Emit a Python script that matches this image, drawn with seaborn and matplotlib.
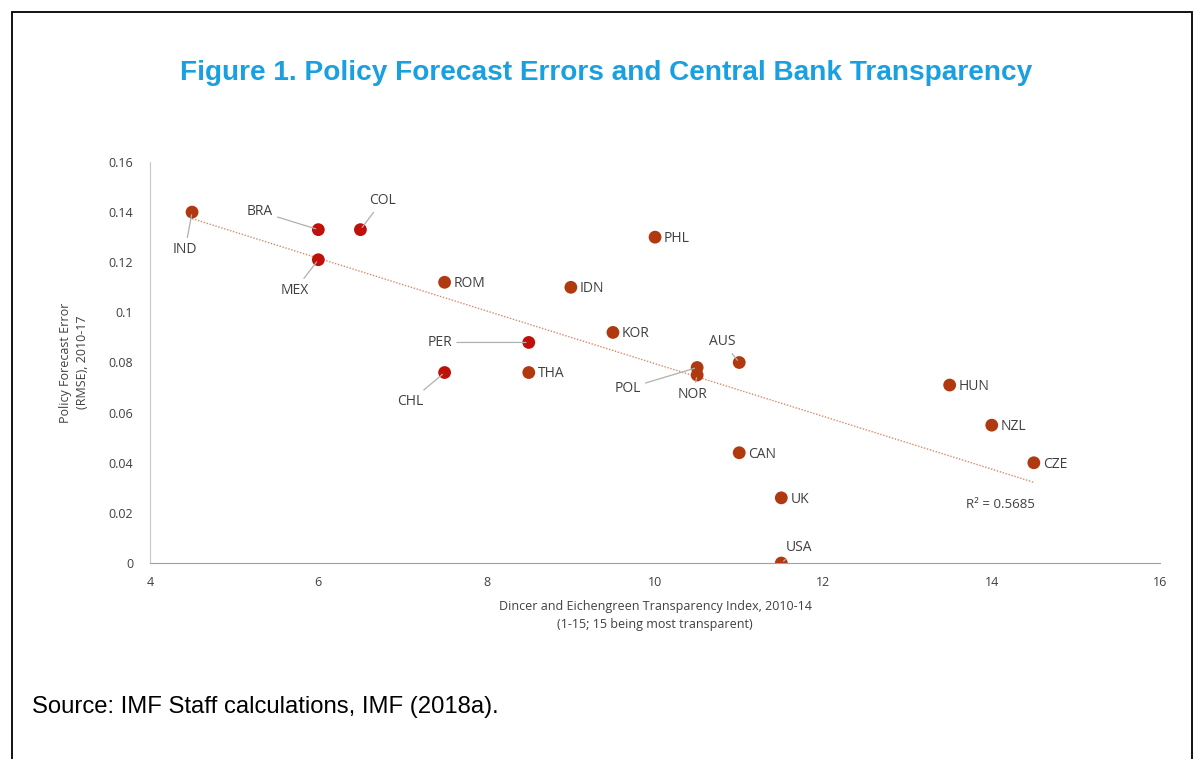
import matplotlib
matplotlib.use("Agg")
import matplotlib.pyplot as plt
import seaborn as sns
import numpy as np
import pandas as pd
from matplotlib.patches import Rectangle

# data
countries = ["IND", "BRA", "COL", "MEX", "ROM", "PHL", "IDN", "KOR", "PER", "CHL",
             "THA", "POL", "NOR", "AUS", "HUN", "NZL", "CZE", "CAN", "UK", "USA"]
transparency = [4.5, 6.0, 6.5, 6.0, 7.5, 10.0, 9.0, 9.5, 8.5, 7.5,
                8.5, 10.5, 10.5, 11.0, 13.5, 14.0, 14.5, 11.0, 11.5, 11.5]
forecast_error = [0.140, 0.133, 0.133, 0.121, 0.112, 0.130, 0.110, 0.092, 0.088, 0.076,
                  0.076, 0.078, 0.075, 0.080, 0.071, 0.055, 0.040, 0.044, 0.026, 0.000]
r2_label = "R² = 0.5685"

df = pd.DataFrame({"country": countries, "x": transparency, "y": forecast_error})

# label placement (offset in points) for the ones with leader lines
label_pos = {
    "IND": (-5, -27),
    "BRA": (-42, 13),
    "COL": (16, 21),
    "MEX": (-17, -22),
    "PER": (-64, 0),
    "CHL": (-25, -21),
    "AUS": (-12, 15),
    "POL": (-50, -15),
    "NOR": (-3, -14),
    "USA": (13, 11),
}
bright = ["BRA", "COL", "MEX", "PER", "CHL"]

sns.set_style("white")
plt.rcParams["font.family"] = ["Open Sans", "DejaVu Sans"]

fig = plt.figure(figsize=(11.96, 7.59), dpi=100)
ax = fig.add_axes([0.1254, 0.2582, 0.8446, 0.5284])

sns.regplot(data=df, x="x", y="y", ax=ax, scatter=False, ci=None,
            line_kws=dict(color="#D9896A", lw=1.0, ls=(0, (1, 1.2))))

df["tone"] = ["bright" if c in bright else "dark" for c in countries]
sns.scatterplot(data=df, x="x", y="y", hue="tone", ax=ax, s=85, linewidth=0,
                palette={"bright": "#C0100A", "dark": "#B0390F"}, legend=False, zorder=3)

for c, xv, yv in zip(countries, transparency, forecast_error):
    if c in label_pos:
        dx, dy = label_pos[c]
        ax.annotate(c, (xv, yv), xytext=(dx, dy), textcoords="offset points",
                    ha="center", va="center", fontsize=10, color="#404040",
                    arrowprops=dict(arrowstyle="-", color="#B0B0B0", lw=0.9,
                                    shrinkA=1, shrinkB=2))
    else:
        ax.annotate(c, (xv, yv), xytext=(6.5, -1), textcoords="offset points",
                    ha="left", va="center", fontsize=10, color="#404040")

ax.text(14.1, 0.0235, r2_label, fontsize=9.5, color="#404040", ha="center", va="center")

ax.set_xlim(4, 16)
ax.set_ylim(0, 0.16)
ax.set_xticks(range(4, 17, 2))
ax.set_yticks(np.arange(0, 0.161, 0.02))
ax.set_yticklabels(["0", "0.02", "0.04", "0.06", "0.08", "0.1", "0.12", "0.14", "0.16"])
ax.tick_params(axis="both", length=0, labelsize=9, colors="#404040")
ax.tick_params(axis="x", pad=9)
ax.tick_params(axis="y", pad=12)
for s in ["top", "right"]:
    ax.spines[s].set_visible(False)
ax.spines["left"].set_color("#C8C8C8")
ax.spines["bottom"].set_color("#A0A0A0")
ax.set_xlabel("Dincer and Eichengreen Transparency Index, 2010-14\n(1-15; 15 being most transparent)",
              fontsize=9, color="#404040", labelpad=8, linespacing=1.5)
ax.set_ylabel("Policy Forecast Error\n(RMSE), 2010-17", fontsize=9, color="#404040",
              labelpad=14, linespacing=1.4)

fig.text(0.507, 0.904, "Figure 1. Policy Forecast Errors and Central Bank Transparency",
         ha="center", va="center", fontsize=20.2, fontweight="bold", color="#18A0E0",
         family=["Liberation Sans", "DejaVu Sans"])
fig.text(0.027, 0.069, "Source: IMF Staff calculations, IMF (2018a).", ha="left", va="center",
         fontsize=17.2, color="black", family=["Liberation Sans", "DejaVu Sans"])

fig.patches.append(Rectangle((12 / 1196, -0.1), 1180 / 1196, 1.1 - 12 / 759, transform=fig.transFigure,
                             fill=False, edgecolor="black", lw=1.3))

fig.savefig("out.png", dpi=100)
